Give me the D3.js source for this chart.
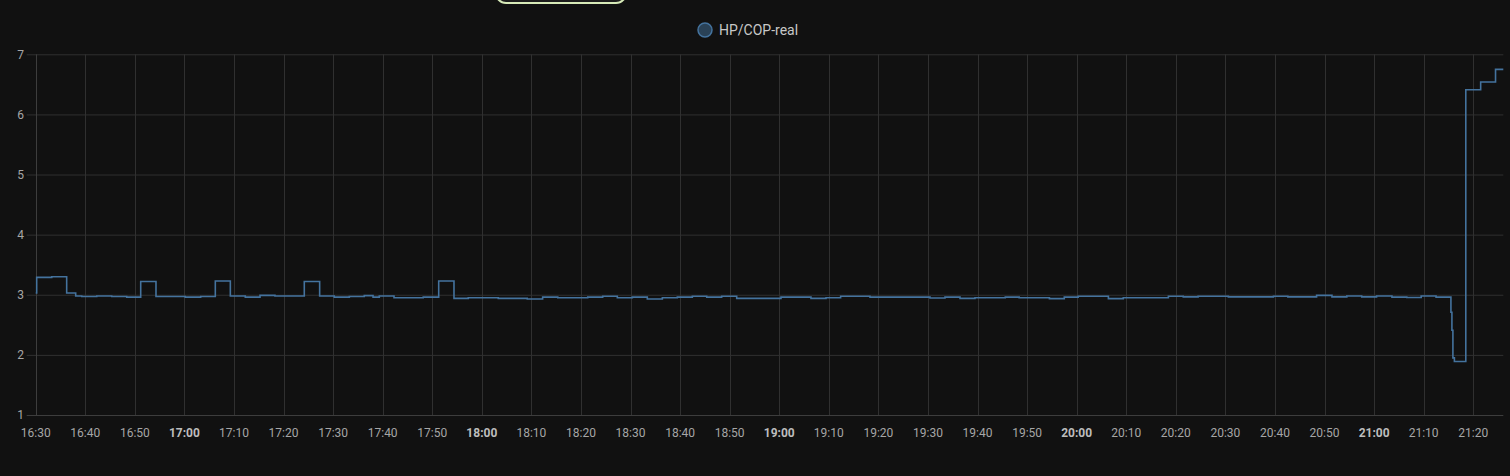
<!DOCTYPE html>
<html><head><meta charset="utf-8">
<script src="https://cdn.jsdelivr.net/npm/d3@7"></script>
<style>
html,body{margin:0;padding:0;background:#111111;}
svg{display:block;font-family:Roboto,"Noto Sans",sans-serif;}
</style></head>
<body><svg id="c" width="1510" height="476"></svg>
<script>
const seriesName = "HP/COP-real";
const times = ["16:30:00","16:30:12","16:33:14","16:36:15","16:38:04","16:39:17","16:42:19","16:45:20","16:48:22","16:51:11",
"16:54:16","17:00:11","17:03:17","17:06:14","17:09:16","17:12:17","17:15:15","17:18:16","17:24:11","17:27:17",
"17:30:14","17:33:16","17:36:17","17:38:03","17:39:19","17:42:17","17:48:11","17:51:18","17:54:23","17:57:16",
"18:03:19","18:09:10","18:12:16","18:15:19","18:21:22","18:24:23","18:27:20","18:30:22","18:33:23","18:36:25",
"18:39:26","18:42:28","18:45:22","18:48:23","18:51:25","19:00:21","19:06:24","19:09:26","19:12:23","19:18:18",
"19:30:25","19:33:26","19:36:28","19:39:29","19:45:36","19:48:24","19:54:30","19:57:30","20:00:18","20:06:24",
"20:09:24","20:18:30","20:21:30","20:24:30","20:30:36","20:39:42","20:42:36","20:48:24","20:51:30","20:54:30",
"20:57:30","21:00:30","21:03:36","21:06:36","21:09:30","21:12:30","21:15:30","21:15:42","21:15:54","21:16:12",
"21:18:30","21:21:30","21:24:30"];
const values = [3.03,3.29,3.30,3.03,2.98,2.97,2.98,2.97,2.96,3.22,
2.97,2.96,2.97,3.23,2.98,2.96,2.99,2.98,3.22,2.98,
2.96,2.97,2.985,2.96,2.98,2.95,2.96,3.23,2.94,2.95,
2.94,2.93,2.96,2.95,2.96,2.975,2.95,2.96,2.93,2.95,
2.96,2.975,2.96,2.975,2.94,2.96,2.94,2.95,2.975,2.96,
2.945,2.96,2.94,2.95,2.96,2.95,2.935,2.96,2.975,2.935,
2.95,2.975,2.965,2.975,2.965,2.975,2.965,2.99,2.965,2.98,
2.965,2.98,2.96,2.955,2.98,2.96,2.71,2.41,1.95,1.89,
6.41,6.54,6.75];
const endTime = "21:26:04";
const yTicks = [1,2,3,4,5,6,7];
const xTickLabels = ["16:30","16:40","16:50","17:00","17:10","17:20","17:30","17:40","17:50","18:00","18:10","18:20","18:30","18:40","18:50","19:00","19:10","19:20","19:30","19:40","19:50","20:00","20:10","20:20","20:30","20:40","20:50","21:00","21:10","21:20"];

const parse = d3.timeParse("%Y-%m-%d %H:%M:%S");
const P = s => parse("2024-01-01 " + s);
const P2 = s => parse("2024-01-01 " + s + ":00");
const data = times.map((t,i)=>({t:P(t), v:values[i]}));
data.push({t:P(endTime), v:values[values.length-1]});

const svg = d3.select("#c");
const m = {l:35.7, r:1503.3, t:54.3, b:415};
const x = d3.scaleTime().domain([P("16:30:00"), P(endTime)]).range([m.l, m.r]);
const y = d3.scaleLinear().domain([1,7]).range([m.b, m.t]);

const gridColor = "#303030";
// horizontal grid
svg.append("g").selectAll("line").data(yTicks).join("line")
  .attr("x1", m.l-9).attr("x2", m.r).attr("y1", d=>y(d)+0.5).attr("y2", d=>y(d)+0.5)
  .attr("stroke", d=> d===1 ? "#3d3d3d" : gridColor).attr("stroke-width",1);
// vertical grid
svg.append("g").selectAll("line").data(xTickLabels).join("line")
  .attr("x1", d=>Math.round(x(P2(d)))+0.5).attr("x2", d=>Math.round(x(P2(d)))+0.5)
  .attr("y1", m.t).attr("y2", m.b)
  .attr("stroke", (d,i)=> i===0 ? "#3d3d3d" : gridColor).attr("stroke-width",1);

// y labels
svg.append("g").selectAll("text").data(yTicks).join("text")
  .attr("x", 24).attr("y", d=>y(d)).attr("dy","0.35em").attr("text-anchor","end")
  .attr("fill","#a6a6a6").attr("font-size",12).text(d=>d);
// x labels
svg.append("g").selectAll("text").data(xTickLabels).join("text")
  .attr("x", d=>x(P2(d))).attr("y", 433).attr("dy","0.35em").attr("text-anchor","middle")
  .attr("fill", d=> d.endsWith(":00") ? "#bdbdbd" : "#a6a6a6")
  .attr("font-weight", d=> d.endsWith(":00") ? "bold" : "normal")
  .attr("font-size",12).text(d=>d);

// line
const line = d3.line().x(d=>x(d.t)).y(d=>y(d.v)).curve(d3.curveStepAfter);
svg.append("path").datum(data).attr("d", line)
  .attr("fill","none").attr("stroke","#44739e").attr("stroke-width",1.6);

// legend
const lg = svg.append("g");
lg.append("circle").attr("cx",705).attr("cy",30).attr("r",7)
  .attr("fill","rgba(68,115,158,0.5)").attr("stroke","#44739e").attr("stroke-width",1.5);
lg.append("text").attr("x",719).attr("y",30).attr("dy","0.35em").attr("fill","#c8c8c8")
  .attr("font-size",14).text(seriesName);

// top pill fragment
svg.append("rect").attr("x",496).attr("y",-20).attr("width",130).attr("height",23).attr("rx",10)
  .attr("fill","#1c1c1c").attr("stroke","#d7eab8").attr("stroke-width",2);
</script></body></html>
